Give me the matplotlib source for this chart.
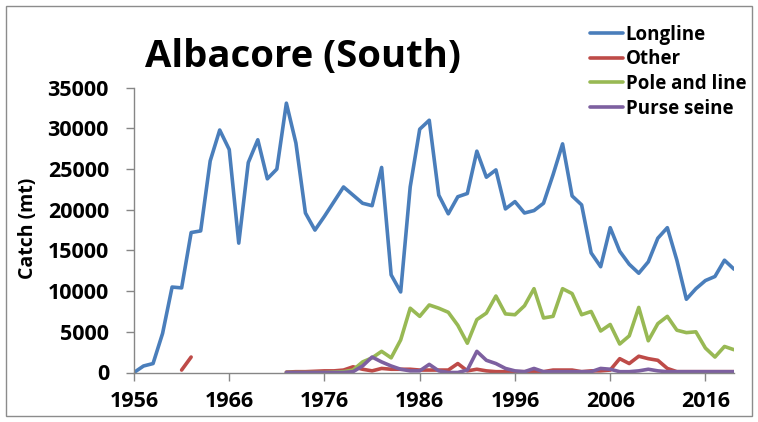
import numpy as np
import matplotlib
matplotlib.use("Agg")
import matplotlib.pyplot as plt
from matplotlib.patches import Rectangle

years = list(range(1956, 2020))
tick_years = [1956, 1966, 1976, 1986, 1996, 2006, 2016]
y_ticks = [0, 5000, 10000, 15000, 20000, 25000, 30000, 35000]

longline = [0, 800, 1100, 4800, 10500, 10400, 17200, 17400, 26000, 29800,
            27400, 15900, 25800, 28600, 23800, 25000, 33100, 28200, 19600, 17500,
            19200, 21000, 22800, 21800, 20800, 20500, 25200, 12000, 9900, 22800,
            29900, 31000, 21800, 19500, 21600, 22000, 27200, 24000, 24900, 20100,
            21000, 19600, 19900, 20800, 24300, 28100, 21700, 20600, 14700, 13000,
            17800, 14900, 13300, 12200, 13600, 16500, 17800, 13800, 9000, 10300,
            11300, 11800, 13800, 12700]

# "Other" has an early pair of years, then a continuous record from 1972
other_early = {1961: 300, 1962: 1900}
other_from_1972 = [50, 100, 100, 150, 200, 200, 300, 700, 400, 200,
                   500, 400, 400, 400, 300, 300, 300, 300, 1100, 200,
                   400, 200, 100, 100, 100, 100, 100, 100, 300, 300,
                   300, 100, 200, 200, 300, 1700, 1100, 2000, 1700, 1500,
                   500, 100, 100, 100, 100, 100, 100, 100]

pole_and_line_from_1972 = [0, 0, 0, 0, 0, 50, 100, 300, 1300, 1800,
                           2600, 1800, 4000, 7900, 6900, 8300, 7900, 7400, 5800, 3600,
                           6500, 7300, 9400, 7200, 7100, 8200, 10300, 6700, 6900, 10300,
                           9700, 7100, 7500, 5100, 5900, 3500, 4500, 8000, 3900, 6000,
                           6900, 5200, 4900, 5000, 3000, 1900, 3200, 2800]

purse_seine_from_1972 = [0, 0, 0, 0, 0, 0, 0, 100, 800, 1900,
                         1300, 800, 400, 200, 200, 1000, 200, 0, 0, 300,
                         2600, 1500, 1100, 500, 200, 100, 500, 100, 100, 100,
                         100, 100, 100, 500, 400, 100, 100, 200, 400, 200,
                         100, 100, 100, 100, 100, 100, 100, 100]


def full_series(start_year, values, extra=None):
    out = np.full(len(years), np.nan)
    for i, v in enumerate(values):
        out[years.index(start_year + i)] = v
    if extra:
        for yr, v in extra.items():
            out[years.index(yr)] = v
    return out


other = full_series(1972, other_from_1972, other_early)
pole_and_line = full_series(1972, pole_and_line_from_1972)
purse_seine = full_series(1972, purse_seine_from_1972)

series = [
    ("Longline", np.array(longline, dtype=float), "#4A7EBB"),
    ("Other", other, "#BE4B48"),
    ("Pole and line", pole_and_line, "#98B954"),
    ("Purse seine", purse_seine, "#7D60A0"),
]

plt.rcParams["font.family"] = ["Open Sans", "DejaVu Sans"]
plt.rcParams["font.weight"] = "bold"

fig = plt.figure(figsize=(7.58, 4.22), dpi=100)
W, H = 758, 422
ax = fig.add_axes([134 / W, (H - 372.5) / H, (734 - 134) / W, (372.5 - 87.7) / H])

handles = []
for name, vals, color in series:
    (h,) = ax.plot(years, vals, color=color, lw=2.6, label=name,
                   solid_joinstyle="round", solid_capstyle="round")
    handles.append(h)

ax.set_xlim(1956, 2019)
ax.set_ylim(0, 35000)
ax.set_xticks(tick_years)
ax.set_xticklabels([str(y) for y in tick_years])
ax.set_yticks(y_ticks)
ax.set_yticklabels([str(v) for v in y_ticks])

for side in ("top", "right"):
    ax.spines[side].set_visible(False)
for side in ("left", "bottom"):
    ax.spines[side].set_color("#868686")
    ax.spines[side].set_linewidth(1.0)
ax.tick_params(axis="both", direction="out", color="#868686", length=6, width=1,
               labelsize=15.5)
ax.tick_params(axis="y", pad=12)
ax.tick_params(axis="x", pad=7)
for lab in ax.get_xticklabels() + ax.get_yticklabels():
    lab.set_fontweight("bold")

fig.text(28 / W, (H - 228) / H, "Catch (mt)", rotation=90, ha="center", va="center",
         fontsize=14, fontweight="bold")
fig.text(145 / W, (H - 67) / H, "Albacore (South)", ha="left", va="baseline",
         fontsize=27.5, fontweight="bold")

leg = fig.legend(handles=handles, loc="upper left",
                 bbox_to_anchor=(590 / W, (H - 25) / H), frameon=False,
                 fontsize=13.5, handlelength=1.75, handletextpad=0.15,
                 labelspacing=0.24, borderpad=0, borderaxespad=0)
for t in leg.get_texts():
    t.set_fontweight("bold")

fig.patches.append(Rectangle((6 / W, 6 / H), (W - 12) / W, (H - 12) / H,
                             transform=fig.transFigure, fill=False,
                             edgecolor="#8C8C8C", lw=1.0))

fig.savefig("out.png", dpi=100)
